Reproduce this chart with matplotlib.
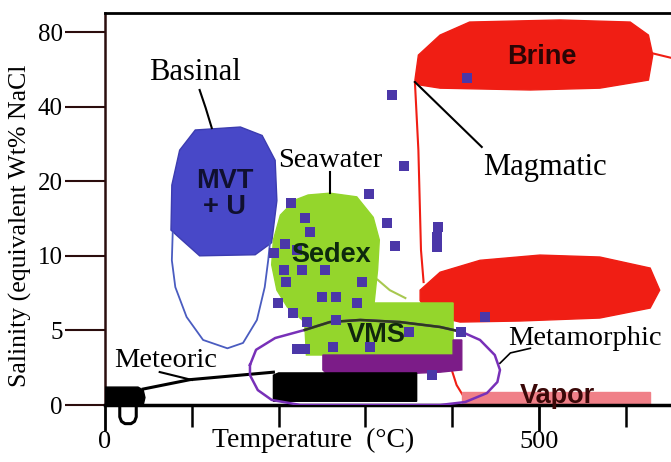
import numpy as np
import matplotlib
matplotlib.use('Agg')
import matplotlib.pyplot as plt

plt.rcParams['font.family'] = ['Liberation Serif', 'DejaVu Sans']

# salinity axis: 0-10 linear, then doubling per tick
sal_ticks = [0, 5, 10, 20, 40, 80]
temp_major = [0, 500]
temp_minor = [100, 200, 300, 400, 600]

# fluid fields, temperature (C) / salinity (wt% NaCl)
mvt_T = [77, 86, 104, 156, 181, 196, 198, 192, 173, 109, 86, 76]
mvt_S = [19.3, 26.7, 32.2, 33.1, 30.6, 24.3, 16.7, 11.3, 10.1, 10.0, 11.8, 12.7]

basinal_T = [78, 77, 81, 94, 113, 141, 159, 175, 184, 188, 190]
basinal_S = [12.4, 9.7, 7.9, 5.9, 4.36, 3.8, 4.16, 5.7, 7.9, 9.7, 11.3]

sedex_T = [234, 259, 290, 309, 316, 314, 310, 401, 401, 232, 230, 210, 198, 192, 194, 202, 219]
sedex_S = [17.6, 17.9, 17.3, 14.3, 11.6, 9.05, 6.84, 6.84, 3.35, 3.35, 5.56, 6.57, 7.7, 9.4, 11.6, 14.6, 16.8]

seawater_T = [314, 328, 346]
seawater_S = [8.4, 7.7, 7.17]

vms_low_T = [251, 401, 401, 411, 411, 386, 259, 251]
vms_low_S = [3.35, 3.35, 4.36, 4.36, 2.35, 2.2, 1.88, 2.35]

meteoric_box_T = [194, 194, 200, 359, 359]
meteoric_box_S = [0.25, 2.0, 2.15, 2.15, 0.25]
u_box_T = [0, 0, 38, 44, 46, 44]
u_box_S = [0, 1.2, 1.2, 1.0, 0.5, 0]
meteoric_T = [44, 98, 194]
meteoric_S = [1.07, 1.7, 2.2]

u_T = [17, 17, 19, 23, 30, 34, 36, 36]
u_S = [0, -0.8, -1.1, -1.25, -1.25, -1.1, -0.8, 0]

meta_T = [167, 174, 196, 230, 259, 294, 340, 386, 411, 432, 449, 455, 452, 440,
          415, 386, 225, 192, 176, 167, 167]
meta_S = [2.68, 3.7, 4.49, 5.03, 5.56, 5.7, 5.56, 5.23, 4.9, 4.36, 3.35, 2.35, 1.54, 0.8,
          0.2, 0, 0, 0.34, 1.0, 2.0, 2.68]

brine_T = [357, 361, 386, 420, 524, 605, 626, 631, 626, 570, 490, 386, 363]
brine_S = [51.2, 64.6, 77.8, 87.8, 89.5, 87.8, 77.8, 64.6, 51.2, 47.5, 46.7, 47.5, 48.9]

brine2_T = [363, 386, 432, 501, 570, 628, 639, 628, 570, 478, 409, 374, 363]
brine2_S = [7.7, 8.9, 9.7, 10.07, 9.92, 9.18, 7.7, 6.5, 5.83, 5.63, 5.56, 6.03, 7.0]

magma_T = [357, 361, 364, 367]
magma_S = [50.3, 26.7, 10.55, 8.24]
magma_low_T = [395, 405, 417]
magma_low_S = [3.15, 1.34, 0.2]

vapor_T = [411, 411, 628, 628]
vapor_S = [0, 0.87, 0.87, 0]

# fluid inclusion data
incl_T = [331, 344, 304, 325, 334, 384, 382, 382, 417, 214, 230, 236, 207, 195, 221, 206,
          227, 253, 209, 296, 250, 266, 290, 199, 217, 233, 266, 350, 410, 221, 230, 263,
          305, 438, 377]
incl_S = [44.5, 23.0, 17.75, 13.57, 10.95, 13.07, 11.91, 10.85, 52.2, 16.33, 14.2, 12.48,
          11.16, 10.26, 10.55, 9.05, 9.05, 9.05, 8.24, 8.24, 7.24, 7.24, 6.84, 6.84, 6.17,
          5.56, 5.70, 4.89, 4.89, 3.75, 3.75, 3.89, 3.89, 5.9, 2.01]


def sal_to_pos(v):
    v = np.asarray(v, dtype=float)
    return np.where(v <= 10, v / 5.0, 2 + np.log2(np.maximum(v, 10) / 10))


def pos_to_sal(p):
    p = np.asarray(p, dtype=float)
    return np.where(p <= 2, p * 5.0, 10 * 2.0 ** (p - 2))


fig = plt.figure(figsize=(6.71, 4.62), dpi=100)
ax = fig.add_axes([105 / 671, 57 / 462, 566 / 671, 392 / 462])
ax.set_yscale('function', functions=(sal_to_pos, pos_to_sal))
ax.set_xlim(0, 652)
ax.set_ylim(0, 95.5)

red = '#f01e14'
ax.plot(magma_T, magma_S, color=red, lw=1.5, zorder=1)
ax.plot(magma_low_T, magma_low_S, color=red, lw=1.5, zorder=1)
ax.plot([628, 660], [66, 62], color=red, lw=1.5, zorder=1)
ax.fill(brine_T, brine_S, color=red, zorder=2)
ax.fill(brine2_T, brine2_S, color=red, zorder=2)
ax.fill(vapor_T, vapor_S, color='#f08088', zorder=2)

ax.fill(mvt_T, mvt_S, facecolor='#4848c8', edgecolor='#3c3cb0', lw=1, zorder=2)
ax.plot(basinal_T, basinal_S, color='#4a5cc0', lw=1.3, zorder=2)

ax.plot(seawater_T, seawater_S, color='#a8c850', lw=1.5, zorder=2)
ax.fill(sedex_T, sedex_S, color='#94d62c', zorder=3)
ax.fill(vms_low_T, vms_low_S, color='#7c1c88', zorder=3)

ax.fill(meteoric_box_T, meteoric_box_S, color='black', zorder=4)
ax.fill(u_box_T, u_box_S, color='black', zorder=4)
ax.plot(meteoric_T, meteoric_S, color='black', lw=2.2, zorder=4)
ax.plot([63, 100], [2.21, 1.68], color='black', lw=1.5, zorder=4)
ax.plot(u_T, u_S, color='black', lw=2.2, clip_on=False, zorder=4)

ax.plot(meta_T, meta_S, color='#7830b8', lw=1.8, zorder=5)
ax.plot(meta_T[3:9], meta_S[3:9], color='#2d3b1e', lw=1.8, zorder=5)

ax.scatter(incl_T, incl_S, marker='s', s=48, color='#4b37a8', linewidths=0, zorder=8)

# pointers
ax.plot([109, 116, 123], [46.7, 39.5, 32.8], color='black', lw=1.5, zorder=6)
ax.plot([259, 259], [21.8, 18.0], color='black', lw=1.5, zorder=6)
ax.plot([357, 434], [50.3, 27.5], color='black', lw=1.5, zorder=6)
ax.plot([455, 467, 490], [2.8, 3.49, 3.8], color='black', lw=1.2, zorder=6)

# labels
ax.text(104, 54.7, 'Basinal', fontsize=22, ha='center', va='center', zorder=9)
ax.text(259, 24.3, 'Seawater', fontsize=20.5, ha='center', va='center', zorder=9)
ax.text(507, 22.8, 'Magmatic', fontsize=22, ha='center', va='center', zorder=9)
ax.text(553, 4.49, 'Metamorphic', fontsize=20.5, ha='center', va='center', zorder=9)
ax.text(70, 3.0, 'Meteoric', fontsize=20.5, ha='center', va='center', zorder=9)

bold = dict(family='Liberation Sans', weight='bold', ha='center', va='center', zorder=9)
ax.text(138, 17.8, 'MVT\n+ U', fontsize=19.5, color='#101030', linespacing=1.0, **bold)
ax.text(261, 10.07, 'Sedex', fontsize=19.5, color='#0d2a0d', **bold)
ax.text(313, 4.7, 'VMS', fontsize=19.5, color='#10260e', **bold)
ax.text(503, 63.5, 'Brine', fontsize=19.5, color='#2a0505', **bold)
ax.text(521, 0.6, 'Vapor', fontsize=19.5, color='#3a0808', **bold)

# axes styling
ax.spines['right'].set_visible(False)
ax.spines['top'].set_linewidth(2)
ax.spines['left'].set_linewidth(1.8)
ax.spines['left'].set_color('#2b0d0d')
ax.spines['bottom'].set_linewidth(2.5)

ax.set_yticks(sal_ticks)
ax.set_yticklabels([str(t) for t in sal_ticks])
ax.yaxis.set_minor_locator(matplotlib.ticker.NullLocator())
ax.tick_params(axis='y', direction='out', length=29, width=1.5, pad=1.5,
               labelsize=18, color='#2b0d0d')

ax.set_xticks(temp_major)
ax.set_xticklabels([str(t) for t in temp_major])
ax.set_xticks(temp_minor, minor=True)
ax.tick_params(axis='x', which='major', direction='out', length=19, width=2,
               pad=0, labelsize=19)
ax.tick_params(axis='x', which='minor', direction='out', length=15.5, width=1.8)

fig.text(313 / 671, 1 - 440 / 462, 'Temperature  (\u00b0C)', fontsize=20,
         ha='center', va='center')
fig.text(20 / 671, 1 - 226 / 462, 'Salinity (equivalent Wt% NaCl', fontsize=18.5,
         rotation=90, ha='center', va='center')

fig.savefig('out.png', dpi=100)
